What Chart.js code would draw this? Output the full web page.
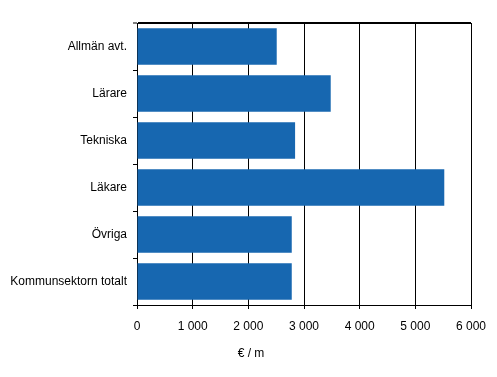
<!DOCTYPE html>
<html>
<head>
<meta charset="utf-8">
<script src="https://cdn.jsdelivr.net/npm/chart.js@4/dist/chart.umd.min.js"></script>
<style>
  html, body { margin: 0; padding: 0; background: #ffffff; }
  #wrap { width: 497px; height: 377px; position: relative; }
</style>
</head>
<body>
<div id="wrap"><canvas id="c" width="497" height="377"></canvas></div>
<script>
const categories = ["Allmän avt.", "Lärare", "Tekniska", "Läkare", "Övriga", "Kommunsektorn totalt"];
const values = [2510, 3480, 2840, 5520, 2780, 2780];
const xTickValues = [0, 1000, 2000, 3000, 4000, 5000, 6000];
const axisTitle = "€ / m";

const FONT = "'Liberation Sans', Arial, sans-serif";

const titlePlugin = {
  id: 'axisTitle',
  afterDraw(chart) {
    const ctx = chart.ctx;
    ctx.save();
    ctx.font = "12px " + FONT;
    ctx.fillStyle = '#000';
    ctx.textAlign = 'center';
    ctx.textBaseline = 'middle';
    ctx.fillText(axisTitle, 251, 354);
    ctx.restore();
  }
};

new Chart(document.getElementById('c'), {
  type: 'bar',
  data: {
    labels: categories,
    datasets: [{
      data: values,
      backgroundColor: '#1767b0',
      borderWidth: 0,
      barPercentage: 0.78,
      categoryPercentage: 1.0
    }]
  },
  options: {
    indexAxis: 'y',
    responsive: false,
    animation: false,
    devicePixelRatio: 1,
    layout: { padding: { left: 0, right: 26, top: 23, bottom: 0 } },
    plugins: { legend: { display: false }, tooltip: { enabled: false } },
    scales: {
      x: {
        min: 0, max: 6000,
        afterBuildTicks(scale) { scale.ticks = xTickValues.map(v => ({ value: v })); },
        afterFit(scale) { scale.height = 72; },
        border: { display: true, color: '#000', width: 1 },
        grid: { color: '#000', lineWidth: 1, tickLength: 4, drawTicks: true, tickColor: '#000' },
        ticks: {
          color: '#000',
          font: { family: FONT, size: 12 },
          padding: 10,
          maxRotation: 0,
          callback: (v) => String(v).replace(/\B(?=(\d{3})+(?!\d))/g, ' ')
        }
      },
      y: {
        afterFit(scale) { scale.width = 137; },
        border: { display: true, color: '#000', width: 1 },
        grid: {
          offset: true,
          color: (c) => (c.index === 0 ? '#000' : 'rgba(0,0,0,0)'),
          lineWidth: (c) => (c.index === 0 ? 2 : 1),
          tickColor: '#000',
          tickWidth: 1,
          tickLength: 4
        },
        ticks: {
          color: '#000',
          font: { family: FONT, size: 12 },
          padding: 6
        }
      }
    }
  },
  plugins: [titlePlugin]
});
</script>
</body>
</html>
